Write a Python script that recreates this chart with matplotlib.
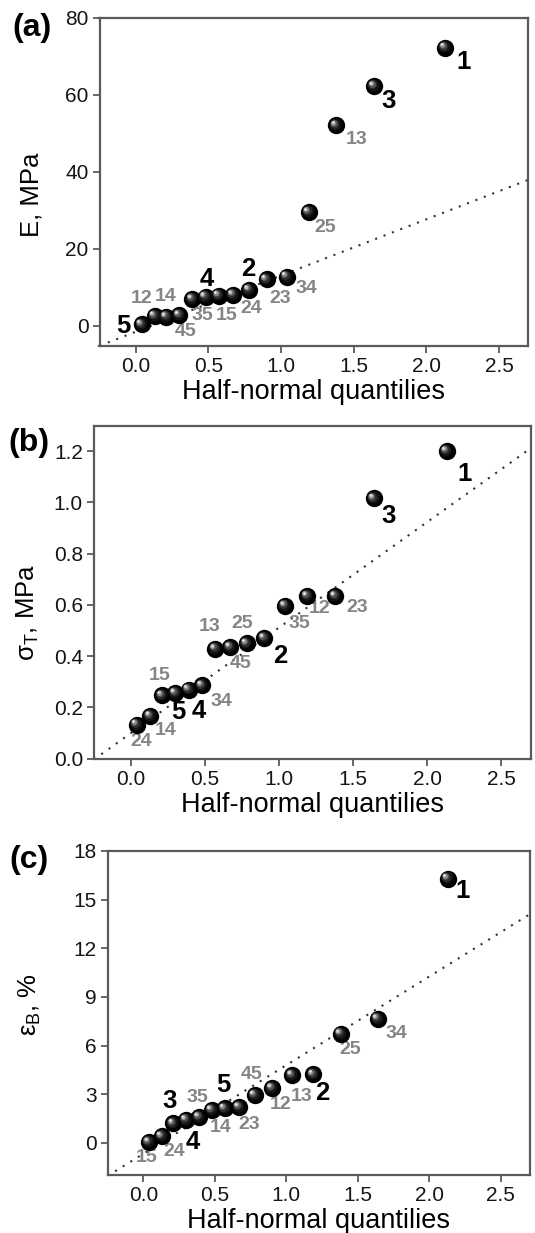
import matplotlib
matplotlib.use('Agg')
import matplotlib.pyplot as plt
from matplotlib.transforms import offset_copy

plt.rcParams['font.family'] = ['Liberation Sans', 'DejaVu Sans']

# ---------------- data ----------------
quantiles = [0.04, 0.13, 0.21, 0.30, 0.39, 0.48, 0.57, 0.67, 0.78, 0.90,
             1.04, 1.19, 1.38, 1.64, 2.13]

labels_a = ['5', '12', '14', '45', '4', '35', '15', '24', '2', '23', '34', '25', '13', '3', '1']
values_a = [0.3, 2.5, 2.3, 2.7, 6.9, 7.5, 7.8, 8.0, 9.3, 12.0, 12.7, 29.5, 52.0, 62.2, 72.2]
fit_a = (14.6, -1.6)      # slope, intercept of dotted reference line

labels_b = ['24', '14', '15', '5', '4', '34', '13', '25', '45', '2', '35', '12', '23', '3', '1']
values_b = [0.133, 0.167, 0.247, 0.256, 0.270, 0.286, 0.429, 0.436, 0.450, 0.470,
            0.597, 0.634, 0.634, 1.016, 1.20]
fit_b = (0.412, 0.10)

labels_c = ['15', '24', '3', '4', '35', '14', '5', '23', '45', '12', '13', '2', '25', '34', '1']
values_c = [0.04, 0.40, 1.20, 1.42, 1.59, 2.01, 2.12, 2.20, 2.94, 3.37, 4.17, 4.22, 6.72, 7.65, 16.3]
fit_c = (5.47, -0.68)

# label offsets in pixels (dx right, dy down)
offs_a = [(-18, 2), (-13, -17), (-1, -20), (6, 16), (14, -20), (-3, 19), (8, 20), (18, 14),
          (-1, -21), (14, 19), (20, 12), (17, 16), (20, 14), (15, 15), (18, 14)]
offs_b = [(4, 17), (15, 15), (-3, -20), (3, 19), (10, 21), (19, 16), (-6, -22), (12, -23),
          (-6, 20), (16, 18), (14, 18), (12, 12), (22, 11), (15, 18), (18, 23)]
offs_c = [(-2, 15), (12, 15), (-4, -22), (7, 22), (-2, -20), (9, 17), (-1, -23), (10, 17),
          (-3, -21), (9, 16), (10, 21), (9, 19), (10, 16), (19, 15), (15, 12)]

W, H = 535, 1233
fig = plt.figure(figsize=(W / 100, H / 100), dpi=100)

def px_axes(l, t, r, b):
    return fig.add_axes([l / W, 1 - b / H, (r - l) / W, (b - t) / H])

SPINE = '#5a5a5a'
GRAY = '#858585'

def spheres(ax, x, y):
    ax.plot(x, y, 'o', ms=12.5, mfc='black', mec='black', mew=0, zorder=5, clip_on=False)
    layers = [(8.5, '#141414', -0.8, 0.8), (6.5, '#2e2e2e', -1.3, 1.3),
              (5.0, '#555555', -1.8, 1.7), (3.6, '#8a8a8a', -2.2, 2.0),
              (2.4, '#c0c0c0', -2.5, 2.3), (1.3, '#f0f0f0', -2.7, 2.5)]
    for ms, c, dx, dy in layers:
        tr = offset_copy(ax.transData, fig=fig, x=dx, y=dy, units='points')
        ax.plot(x, y, 'o', ms=ms, mfc=c, mec=c, mew=0, transform=tr, zorder=6, clip_on=False)

def panel(ax, vals, labels, offs, fit, ylim, yticks, ylabel, ylab_xy, tag, tag_xy):
    ax.set_xlim(-0.25, 2.7)
    ax.set_ylim(*ylim)
    xs = [-0.25, 2.7]
    ax.plot(xs, [fit[0] * v + fit[1] for v in xs], color='#333333', lw=1.5,
            ls=(0, (1, 3.3)), zorder=2)
    spheres(ax, quantiles, vals)
    for x, y, lab, (dx, dy) in zip(quantiles, vals, labels, offs):
        main = len(lab) == 1
        ax.annotate(lab, (x, y), xytext=(dx, -dy), textcoords='offset pixels',
                    ha='center', va='center', fontweight='bold',
                    fontsize=18.5 if main else 14, color='black' if main else GRAY,
                    zorder=4)
    ax.set_xticks([0.0, 0.5, 1.0, 1.5, 2.0, 2.5])
    ax.set_xticklabels(['0.0', '0.5', '1.0', '1.5', '2.0', '2.5'])
    ax.set_yticks(yticks[0])
    ax.set_yticklabels(yticks[1])
    for s in ax.spines.values():
        s.set_color(SPINE)
        s.set_linewidth(1.6)
    ax.tick_params(direction='out', length=5, width=1.3, color=SPINE, labelsize=15,
                   labelcolor='#151515', top=False, right=False, pad=3)
    ax.set_xlabel('Half-normal quantilies', fontsize=19.5, labelpad=2)
    fig.text(ylab_xy[0] / W, 1 - ylab_xy[1] / H, ylabel, rotation=90, ha='center',
             va='center', fontsize=18.5)
    fig.text(tag_xy[0] / W, 1 - tag_xy[1] / H, tag, ha='center', va='center',
             fontsize=23, fontweight='bold')

ax_a = px_axes(99.5, 17.5, 528, 346)
panel(ax_a, values_a, labels_a, offs_a, fit_a, (-5.3, 80),
      ([0, 20, 40, 60, 80], ['0', '20', '40', '60', '80']),
      'E, MPa', (31, 195), '(a)', (32, 28))

ax_b = px_axes(94, 425.6, 531, 758.7)
panel(ax_b, values_b, labels_b, offs_b, fit_b, (0, 1.3),
      ([0.0, 0.2, 0.4, 0.6, 0.8, 1.0, 1.2], ['0.0', '0.2', '0.4', '0.6', '0.8', '1.0', '1.2']),
      r'σ$_\mathregular{T}$, MPa', (28, 612), '(b)', (29, 443))

ax_c = px_axes(107.5, 851, 529.5, 1175.2)
panel(ax_c, values_c, labels_c, offs_c, fit_c, (-2, 18),
      ([0, 3, 6, 9, 12, 15, 18], ['0', '3', '6', '9', '12', '15', '18']),
      r'ε$_\mathregular{B}$, %', (30, 1005), '(c)', (29, 860))

fig.savefig('out.png', dpi=100)
